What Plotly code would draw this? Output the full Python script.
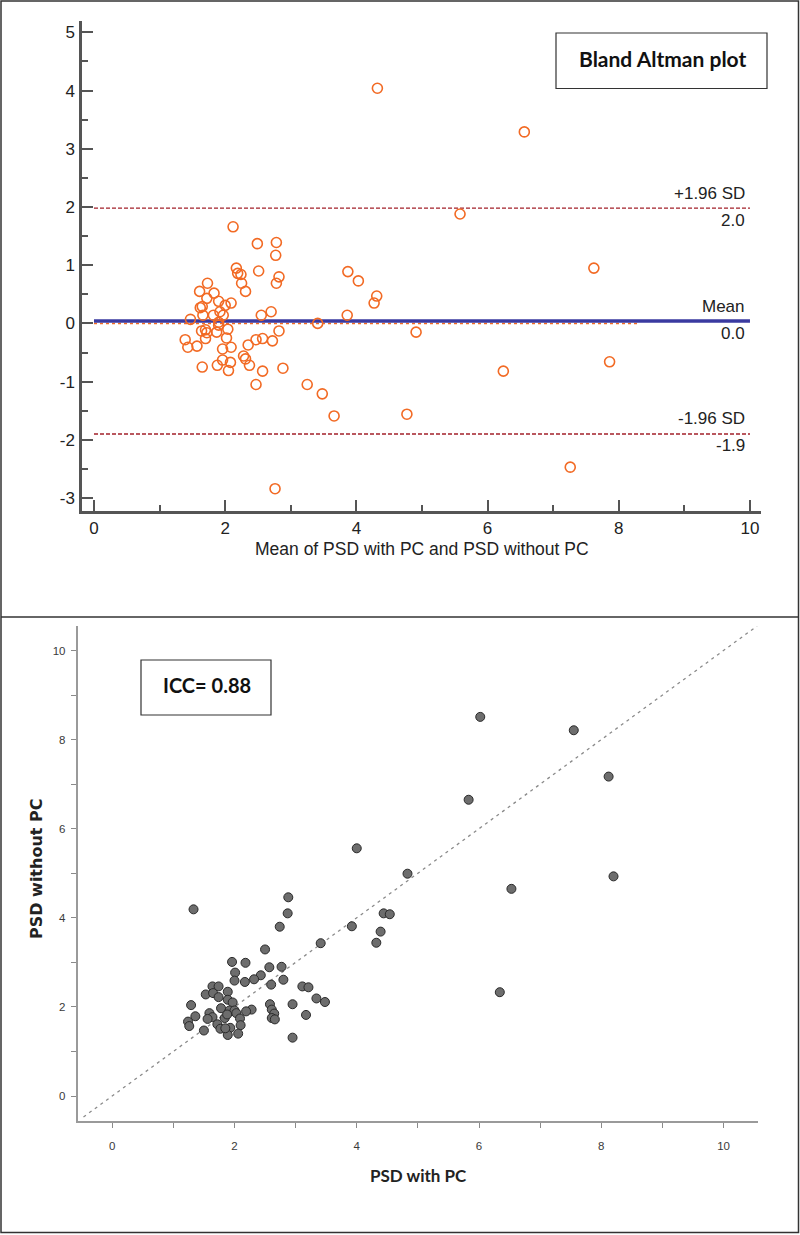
import plotly.graph_objects as go

W, H = 800, 1235

# ---------------- Bland-Altman data ----------------
ba_mean = [4.32, 6.56, 5.58, 7.62, 4.91, 7.86, 6.24, 4.77, 3.66, 3.48, 3.25, 7.26, 2.76,
           3.87, 4.03, 4.31, 4.27, 3.86, 3.41,
           2.12, 2.49, 2.78, 2.77, 2.17, 2.19, 2.24, 2.51, 2.82, 2.78, 2.25, 2.31, 2.70,
           2.55, 2.82, 2.57, 2.72, 2.47, 2.35, 2.28, 2.31, 2.37, 2.57, 2.88, 2.47,
           1.39, 1.43, 1.57, 1.47, 1.65, 1.61, 1.73, 1.72, 1.65, 1.62, 1.66, 1.83, 1.90,
           1.92, 1.82, 1.97, 1.90, 1.90, 2.04, 2.00, 2.09, 1.64, 1.70, 1.72, 1.70, 1.87,
           2.02, 1.96, 2.09, 1.96, 2.08, 1.88, 2.05]
ba_diff = [4.04, 3.29, 1.88, 0.95, -0.15, -0.66, -0.82, -1.56, -1.59, -1.21, -1.05, -2.47, -2.84,
           0.89, 0.73, 0.47, 0.35, 0.14, 0.0,
           1.66, 1.37, 1.39, 1.17, 0.95, 0.86, 0.84, 0.90, 0.80, 0.69, 0.69, 0.55, 0.20,
           0.14, -0.13, -0.26, -0.30, -0.28, -0.37, -0.56, -0.61, -0.72, -0.82, -0.77, -1.05,
           -0.28, -0.41, -0.39, 0.07, -0.75, 0.55, 0.69, 0.43, 0.29, 0.27, 0.14, 0.52, 0.38,
           0.20, 0.14, 0.14, 0.02, -0.03, -0.10, 0.31, 0.35, -0.13, -0.11, -0.16, -0.26, -0.15,
           -0.25, -0.44, -0.41, -0.63, -0.67, -0.72, -0.81]

mean_diff = 0.04
upper_loa = 1.98
lower_loa = -1.90
line_x = [0, 10]
zero_line_x = [0, 8.28]
ref_labels = [("+1.96 SD", "2.0", upper_loa), ("Mean", "0.0", mean_diff), ("-1.96 SD", "-1.9", lower_loa)]

ba_xticks = [0, 2, 4, 6, 8, 10]
ba_yticks = [-3, -2, -1, 0, 1, 2, 3, 4, 5]
ba_yticktext = ["-3", "-2", "-1", "0", "1", "2", "3", "4", "5"]

# ---------------- Scatter data ----------------
psd_with = [6.02, 7.55, 8.12, 5.83, 4.00, 4.83, 8.20, 6.53, 6.34, 1.33, 2.88, 2.87, 2.74, 3.92,
            4.44, 4.54, 4.39, 4.32, 3.41, 2.50, 1.96, 2.18, 2.57, 2.77, 2.43, 2.32, 2.01, 2.00,
            2.17, 2.80, 2.60, 3.11, 3.21, 3.34, 3.48, 2.95, 3.17, 2.95, 2.58, 2.61, 2.65, 2.61,
            2.66, 2.28, 2.19, 1.64, 1.74, 1.53, 1.65, 1.74, 1.89, 1.89, 1.97, 1.29, 1.78, 1.92,
            2.00, 2.03, 1.36, 1.59, 1.64, 1.56, 1.24, 1.26, 1.50, 1.72, 1.77, 1.84, 1.88, 2.09,
            2.10, 1.93, 1.89, 2.06, 1.85]
psd_without = [8.51, 8.21, 7.17, 6.65, 5.56, 4.99, 4.93, 4.65, 2.33, 4.19, 4.46, 4.10, 3.80, 3.81,
               4.10, 4.08, 3.69, 3.44, 3.43, 3.29, 3.01, 2.99, 2.89, 2.90, 2.71, 2.62, 2.77, 2.59,
               2.56, 2.61, 2.50, 2.46, 2.44, 2.19, 2.11, 2.06, 1.82, 1.31, 2.06, 1.94, 1.85, 1.75,
               1.72, 1.94, 1.90, 2.46, 2.46, 2.28, 2.31, 2.22, 2.34, 2.16, 2.10, 2.04, 1.97, 1.92,
               1.92, 1.86, 1.79, 1.86, 1.77, 1.73, 1.67, 1.57, 1.47, 1.61, 1.51, 1.75, 1.83, 1.74,
               1.59, 1.53, 1.37, 1.40, 1.52]
identity_x = [-0.47, 10.55]
sc_ticks = list(range(0, 11))
sc_ticktext = [str(v) if v % 2 == 0 else "" for v in sc_ticks]


def px_x(p):
    return p / W


def px_y(p):
    return 1 - p / H


AX_TOP = "#555555"
ORANGE = "#f26a24"
BLUE = "#3a3aa0"
DRED = "#a3202a"
TEXT = "#222222"

fig = go.Figure()

# --- top panel lines ---
fig.add_trace(go.Scatter(x=zero_line_x, y=[0, 0], mode="lines",
                         line=dict(color=ORANGE, width=1.5, dash="dot"),
                         xaxis="x", yaxis="y", hoverinfo="skip", showlegend=False))
for val, dash, col, wd in [(upper_loa, "4px,2px", DRED, 1.3),
                           (lower_loa, "4px,2px", DRED, 1.3),
                           (mean_diff, "solid", BLUE, 3.5)]:
    fig.add_trace(go.Scatter(x=line_x, y=[val, val], mode="lines",
                             line=dict(color=col, width=wd, dash=dash),
                             xaxis="x", yaxis="y", hoverinfo="skip", showlegend=False))

fig.add_trace(go.Scatter(x=ba_mean, y=ba_diff, mode="markers",
                         marker=dict(symbol="circle-open", size=10, color=ORANGE,
                                     line=dict(color=ORANGE, width=1.6)),
                         xaxis="x", yaxis="y", showlegend=False))

# --- bottom panel ---
fig.add_trace(go.Scatter(x=identity_x, y=identity_x, mode="lines",
                         line=dict(color="#8a8a8a", width=1.3, dash="3px,4px"),
                         xaxis="x2", yaxis="y2", hoverinfo="skip", showlegend=False))
fig.add_trace(go.Scatter(x=psd_with, y=psd_without, mode="markers",
                         marker=dict(symbol="circle", size=9, color="#6d6d6d",
                                     line=dict(color="#2a2a2a", width=1)),
                         xaxis="x2", yaxis="y2", showlegend=False))

top_font = dict(family="Liberation Sans, Arial, sans-serif", size=17, color=TEXT)
title_font = dict(family="Liberation Sans, Arial, sans-serif", size=17.5, color=TEXT)
small_font = dict(family="Liberation Sans, Arial, sans-serif", size=11.5, color="#3a3a3a")

fig.update_layout(
    width=W, height=H, margin=dict(l=0, r=0, t=0, b=0),
    paper_bgcolor="white", plot_bgcolor="white", showlegend=False,
    font=dict(family="Liberation Sans, Arial, sans-serif", color=TEXT),
    xaxis=dict(domain=[px_x(82), px_x(761)], range=[-0.183, 10.168], anchor="y",
               showgrid=False, zeroline=False, showline=True, linecolor=AX_TOP, linewidth=2.5,
               tickmode="array", tickvals=ba_xticks, ticks="inside", ticklen=11, tickwidth=2,
               tickcolor=AX_TOP, tickfont=top_font, ticklabelstandoff=0,
               minor=dict(dtick=1, tick0=0, ticks="inside", ticklen=6, tickwidth=2,
                          tickcolor=AX_TOP, showgrid=False)),
    yaxis=dict(domain=[px_y(511), px_y(20.5)], range=[-3.223, 5.204], anchor="x",
               showgrid=False, zeroline=False, showline=True, linecolor=AX_TOP, linewidth=2.5,
               tickmode="array", tickvals=ba_yticks, ticktext=ba_yticktext, ticks="inside",
               ticklen=11, tickwidth=2,
               tickcolor=AX_TOP, tickfont=top_font, ticklabelstandoff=1,
               minor=dict(dtick=0.5, tick0=0, ticks="inside", ticklen=6, tickwidth=2,
                          tickcolor=AX_TOP, showgrid=False)),
    xaxis2=dict(domain=[px_x(77.5), px_x(757.6)], range=[-0.568, 10.557], anchor="y2",
                showgrid=False, zeroline=False, showline=True, linecolor="#9a9a9a", linewidth=1.5,
                tickmode="array", tickvals=sc_ticks, ticktext=sc_ticktext, ticks="outside",
                ticklen=5, tickwidth=1, tickcolor="#8a8a8a", tickfont=small_font,
                ticklabelstandoff=8),
    yaxis2=dict(domain=[px_y(1121), px_y(626)], range=[-0.561, 10.55], anchor="x2",
                showgrid=False, zeroline=False, showline=True, linecolor="#9a9a9a", linewidth=1.5,
                tickmode="array", tickvals=sc_ticks, ticktext=sc_ticktext, ticks="outside",
                ticklen=5, tickwidth=1, tickcolor="#8a8a8a", tickfont=small_font,
                ticklabelstandoff=3),
)

annotations = []
# reference line labels
for upper_txt, lower_txt, val in ref_labels:
    annotations.append(dict(x=9.95, y=val, xref="x", yref="y", text=upper_txt, showarrow=False,
                            xanchor="right", yanchor="middle", yshift=15, font=top_font))
    annotations.append(dict(x=9.95, y=val, xref="x", yref="y", text=lower_txt, showarrow=False,
                            xanchor="right", yanchor="middle", yshift=-12, font=top_font))
# axis titles
annotations.append(dict(x=px_x(421.5), y=px_y(549), xref="paper", yref="paper",
                        text="Mean of PSD with PC and PSD without PC", showarrow=False,
                        xanchor="center", yanchor="middle", font=title_font))
annotations.append(dict(x=px_x(418), y=px_y(1175), xref="paper", yref="paper",
                        text="<b>PSD with PC</b>", showarrow=False, xanchor="center", yanchor="middle",
                        font=dict(family="Lato, sans-serif", size=17, color=TEXT)))
annotations.append(dict(x=px_x(36), y=px_y(869), xref="paper", yref="paper",
                        text="<b>PSD without PC</b>", showarrow=False, textangle=-90,
                        xanchor="center", yanchor="middle",
                        font=dict(family="DejaVu Sans, sans-serif", size=16, color=TEXT)))
# boxed labels
annotations.append(dict(x=px_x(662), y=px_y(58), xref="paper", yref="paper",
                        text="<b>Bland Altman plot</b>", showarrow=False, xanchor="center",
                        yanchor="middle", font=dict(family="Lato, sans-serif", size=21, color="#111111")))
annotations.append(dict(x=px_x(206.5), y=px_y(685), xref="paper", yref="paper",
                        text="<b>ICC= 0.88</b>", showarrow=False, xanchor="center",
                        yanchor="middle", font=dict(family="Lato, sans-serif", size=20, color="#111111")))
fig.update_layout(annotations=annotations)

shapes = [
    dict(type="rect", xref="paper", yref="paper", x0=px_x(556), x1=px_x(767), y0=px_y(88.5), y1=px_y(33),
         line=dict(color="#333333", width=1.2)),
    dict(type="rect", xref="paper", yref="paper", x0=px_x(141), x1=px_x(271), y0=px_y(715), y1=px_y(660),
         line=dict(color="#333333", width=1.2)),
    # outer frame and divider
    dict(type="rect", xref="paper", yref="paper", x0=px_x(1), x1=px_x(798.5), y0=px_y(1232.5), y1=px_y(1),
         line=dict(color="#333333", width=1.5)),
    dict(type="line", xref="paper", yref="paper", x0=px_x(1), x1=px_x(798.5), y0=px_y(617), y1=px_y(617),
         line=dict(color="#333333", width=1.5)),
]
fig.update_layout(shapes=shapes)

fig.write_html("out.html", config={"displayModeBar": False},
               post_script="document.body.style.margin='0';document.body.style.padding='0';"
                           "document.body.style.overflow='hidden';")
